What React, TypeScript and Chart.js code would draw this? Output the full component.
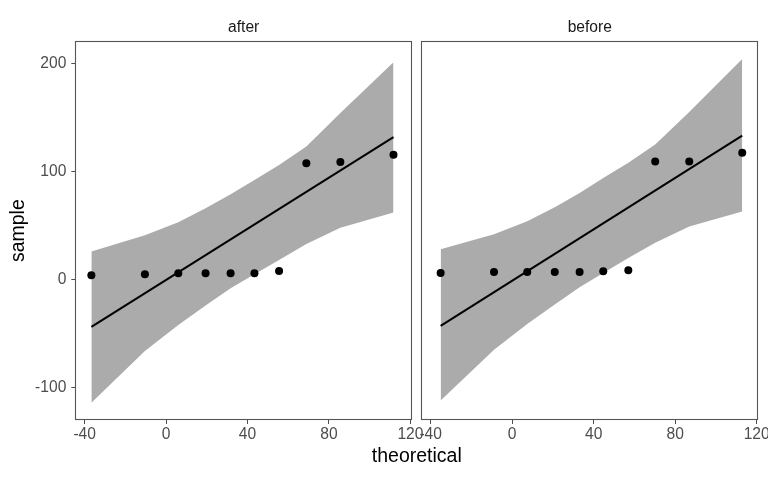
import React, { useEffect, useRef } from 'react';
import { Chart, registerables } from 'chart.js';

Chart.register(...registerables);

// ---- data ----
const facetLabels = ['after', 'before'];

const afterTheoretical = [-36.7, -10.4, 6.0, 19.4, 31.7, 43.4, 55.5, 68.9, 85.6, 111.7];
const afterSample = [4.0, 4.9, 5.8, 5.8, 5.8, 5.8, 7.9, 107.5, 108.7, 115.5];
const afterLineEnds = [-43.8, 131.8];
const afterUpper = [26, 41, 53, 66, 79, 92, 106, 123, 154, 201];
const afterLower = [-114, -66, -42, -24, -8, 5, 18, 33, 48, 62];

const beforeTheoretical = [-35.1, -8.9, 7.4, 20.9, 33.1, 44.7, 57.0, 70.2, 86.9, 112.9];
const beforeSample = [6.1, 7.0, 7.0, 7.0, 7.0, 7.7, 8.6, 109.3, 109.3, 117.4];
const beforeLineEnds = [-42.9, 133.1];
const beforeUpper = [28, 42, 54, 67, 80, 94, 108, 125, 155, 204];
const beforeLower = [-112, -65, -41, -23, -7, 6, 20, 34, 49, 63];

const xTicks = [-40, 0, 40, 80, 120];
const yTicks = [-100, 0, 100, 200];
const xRange = [-44.1, 120.3];
const yRange = [-129, 219.5];

const FONT = '"Liberation Sans", Arial, Helvetica, sans-serif';
const GREY = '#4d4d4d';

const panelPlugin = {
  id: 'panel',
  afterDraw(chart: any, _args: any, opts: any) {
    const { ctx, chartArea } = chart;
    const { left, top, right, bottom } = chartArea;
    ctx.save();
    ctx.strokeStyle = '#555555';
    ctx.lineWidth = 1.1;
    ctx.strokeRect(Math.round(left) - 0.5, Math.round(top) - 0.5, Math.round(right - left) + 1, Math.round(bottom - top) + 1);
    ctx.fillStyle = '#1a1a1a';
    ctx.font = `15.6px ${FONT}`;
    ctx.textAlign = 'center';
    ctx.textBaseline = 'alphabetic';
    ctx.fillText(opts.text, (left + right) / 2, 31.7);
    ctx.restore();
  },
};

function pts(xs: number[], ys: number[]) {
  return xs.map((x, i) => ({ x, y: ys[i] }));
}

function makeConfig(
  label: string,
  tx: number[],
  sy: number[],
  lineEnds: number[],
  up: number[],
  lo: number[],
  showY: boolean,
  padding: any
): any {
  return {
    type: 'scatter',
    data: {
      datasets: [
        {
          type: 'scatter',
          data: pts(tx, sy),
          pointRadius: 4,
          pointHoverRadius: 4,
          backgroundColor: '#000000',
          borderWidth: 0,
        },
        {
          type: 'line',
          data: [
            { x: tx[0], y: lineEnds[0] },
            { x: tx[tx.length - 1], y: lineEnds[1] },
          ],
          borderColor: '#000000',
          borderWidth: 2,
          pointRadius: 0,
          fill: false,
        },
        {
          type: 'line',
          data: pts(tx, up),
          borderColor: 'rgba(0,0,0,0)',
          borderWidth: 0,
          pointRadius: 0,
          backgroundColor: '#ababab',
          fill: '+1',
          tension: 0,
        },
        {
          type: 'line',
          data: pts(tx, lo),
          borderColor: 'rgba(0,0,0,0)',
          borderWidth: 0,
          pointRadius: 0,
          fill: false,
          tension: 0,
        },
      ],
    },
    options: {
      responsive: false,
      maintainAspectRatio: false,
      animation: false,
      events: [],
      layout: { padding },
      plugins: {
        legend: { display: false },
        tooltip: { enabled: false },
        title: { display: false },
        panel: { text: label },
      },
      scales: {
        x: {
          type: 'linear',
          min: xRange[0],
          max: xRange[1],
          afterBuildTicks: (s: any) => {
            s.ticks = xTicks.map((v) => ({ value: v }));
          },
          afterFit: (s: any) => {
            s.height = 61;
            s.paddingLeft = 0;
            s.paddingRight = 0;
          },
          grid: {
            drawOnChartArea: false,
            drawTicks: true,
            tickLength: 5,
            tickColor: GREY,
            tickWidth: 1,
          },
          border: { display: false },
          ticks: {
            autoSkip: false,
            maxRotation: 0,
            padding: 1.2,
            color: GREY,
            font: { size: 15.6, family: FONT },
            callback: (v: any) => String(v),
          },
        },
        y: {
          type: 'linear',
          display: showY,
          min: yRange[0],
          max: yRange[1],
          afterBuildTicks: (s: any) => {
            s.ticks = yTicks.map((v) => ({ value: v }));
          },
          afterFit: (s: any) => {
            s.width = showY ? 76.3 : 0;
            s.paddingTop = 0;
            s.paddingBottom = 0;
          },
          grid: {
            drawOnChartArea: false,
            drawTicks: true,
            tickLength: 5,
            tickColor: GREY,
            tickWidth: 1,
          },
          border: { display: false },
          title: {
            display: showY,
            text: 'sample',
            color: '#000000',
            font: { size: 19.5, family: FONT },
            padding: { top: 6.5, bottom: 0 },
          },
          ticks: {
            autoSkip: false,
            padding: 5,
            color: GREY,
            font: { size: 15.6, family: FONT },
            callback: (v: any) => String(v),
          },
        },
      },
    },
    plugins: [panelPlugin],
  };
}

export default function App() {
  const leftRef = useRef<HTMLCanvasElement | null>(null);
  const rightRef = useRef<HTMLCanvasElement | null>(null);

  useEffect(() => {
    const charts: Chart[] = [];
    if (leftRef.current) {
      charts.push(
        new Chart(
          leftRef.current,
          makeConfig(facetLabels[0], afterTheoretical, afterSample, afterLineEnds, afterUpper, afterLower, true, {
            left: 0,
            top: 42.3,
            right: 19,
            bottom: 0,
          })
        )
      );
    }
    if (rightRef.current) {
      charts.push(
        new Chart(
          rightRef.current,
          makeConfig(facetLabels[1], beforeTheoretical, beforeSample, beforeLineEnds, beforeUpper, beforeLower, false, {
            left: 6.3,
            top: 42.3,
            right: 10.7,
            bottom: 0,
          })
        )
      );
    }
    return () => charts.forEach((c) => c.destroy());
  }, []);

  return (
    <div
      style={{
        position: 'fixed',
        left: 0,
        top: 0,
        width: 768,
        height: 480,
        overflow: 'hidden',
        background: '#ffffff',
      }}
    >
      <canvas
        ref={leftRef}
        width={430}
        height={480}
        style={{ position: 'absolute', left: 0, top: 0, width: 430, height: 480 }}
      />
      <canvas
        ref={rightRef}
        width={352}
        height={480}
        style={{ position: 'absolute', left: 416, top: 0, width: 352, height: 480 }}
      />
      <div
        style={{
          position: 'absolute',
          left: 216.8,
          width: 400,
          top: 445.8,
          textAlign: 'center',
          fontFamily: FONT,
          fontSize: 19.5,
          lineHeight: '19.5px',
          color: '#000000',
          whiteSpace: 'nowrap',
        }}
      >
        theoretical
      </div>
    </div>
  );
}
